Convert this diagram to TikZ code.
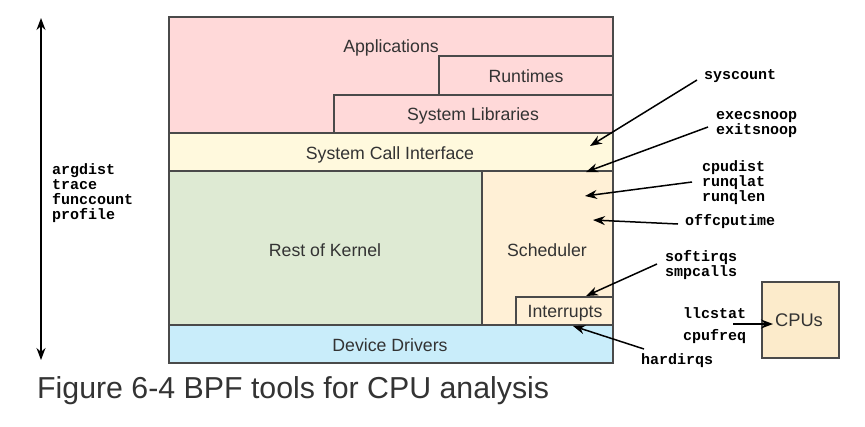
\documentclass[tikz,border=0pt]{standalone}
\usepackage{fontspec}
\setmainfont{Liberation Sans}
\newfontfamily\monof{Liberation Mono}
\usetikzlibrary{arrows.meta}
\definecolor{apppink}{HTML}{FFD9D9}
\definecolor{sciyel}{HTML}{FFF9DD}
\definecolor{kgreen}{HTML}{DEEAD3}
\definecolor{schedpeach}{HTML}{FFF0D6}
\definecolor{ddblue}{HTML}{C9EDFA}
\definecolor{cpupeach}{HTML}{FCEBCB}
\definecolor{boxline}{HTML}{4A4A4A}
\definecolor{txt}{HTML}{333333}
\tikzset{
  layer/.style={draw=boxline, line width=1.3pt},
  lbl/.style={text=txt, font=\fontsize{17.7}{20}\selectfont, inner sep=0pt, anchor=base},
  tool/.style={font=\monof\bfseries\fontsize{15}{15}\selectfont, align=left, anchor=west, inner sep=0pt, text=black},
  arr/.style={-{Stealth[length=12pt,width=9pt]}, line width=1.5pt},
}
\begin{document}
\begin{tikzpicture}[x=1pt,y=-1pt]
\useasboundingbox (0,0) rectangle (865,426);
% layers
\path[layer, fill=apppink] (169,17) rectangle (613,133);
\path[layer, fill=apppink] (439,56) rectangle (613,95);
\path[layer, fill=apppink] (334,95) rectangle (613,133);
\path[layer, fill=sciyel] (169,133) rectangle (613,171);
\path[layer, fill=kgreen] (169,171) rectangle (482,325);
\path[layer, fill=schedpeach] (482,171) rectangle (613,325);
\path[layer, fill=schedpeach] (516,297) rectangle (613,325);
\path[layer, fill=ddblue] (169,325) rectangle (613,363);
\path[layer, fill=cpupeach] (762,282) rectangle (839,358);
% labels
\node[lbl] (app) at (391,52.3) {Applications};
\node[lbl] (rt) at (526,82) {Runtimes};
\node[lbl] (sl) at (473,120.7) {System Libraries};
\node[lbl] (sci) at (390,159.3) {System Call Interface};
\node[lbl] (rok) at (325,256) {Rest of Kernel};
\node[lbl] (sch) at (547,256) {Scheduler};
\node[lbl] (irq) at (565,317.7) {Interrupts};
\node[lbl] (dd) at (390,351.7) {Device Drivers};
\node[lbl, font=\fontsize{18.3}{22}\selectfont] (cpus) at (799,326) {CPUs};
% tools
\node[tool] (syscount) at (704,76) {syscount};
\node[tool] (exec) at (716,124.5) {execsnoop\\exitsnoop};
\node[tool] (cpudist) at (702,182.5) {cpudist\\runqlat\\runqlen};
\node[tool] (offcpu) at (685,222) {offcputime};
\node[tool] (soft) at (665,265.5) {softirqs\\smpcalls};
\node[tool] (llc) at (683,313) {llcstat};
\node[tool] (freq) at (683,337) {cpufreq};
\node[tool] (hard) at (641,361) {hardirqs};
\node[tool] (left) at (52,193.5) {argdist\\trace\\funccount\\profile};
% arrow ends
\coordinate (t1) at (590,146);
\coordinate (t2) at (586,172);
\coordinate (t3) at (585,196);
\coordinate (t4) at (593,220);
\coordinate (t5) at (586,296);
\coordinate (t6) at (573,326);
\coordinate (s7) at (733,324);
\coordinate (t7) at (773,324);
\coordinate (top) at (41,18);
\coordinate (bot) at (41,360);
\coordinate (s1) at (697,80);
\coordinate (s2) at (708,127);
\coordinate (s3) at (692,182);
\coordinate (s4) at (678,224);
\coordinate (s5) at (657,264);
\coordinate (s6) at (644,349);
% arrows
\draw[arr] (s1) -- (t1);
\draw[arr] (s2) -- (t2);
\draw[arr] (s3) -- (t3);
\draw[arr] (s4) -- (t4);
\draw[arr] (s5) -- (t5);
\draw[arr] (s6) -- (t6);
\draw[arr] (s7) -- (t7);
\draw[{Stealth[length=12pt,width=9pt]}-{Stealth[length=12pt,width=9pt]}, line width=1.5pt] (top) -- (bot);
% caption
\node[anchor=base west, inner sep=0pt, text=txt, font=\fontsize{30.3}{34}\selectfont] (cap) at (37,398) {Figure 6-4 BPF tools for CPU analysis};
\end{tikzpicture}
\end{document}
